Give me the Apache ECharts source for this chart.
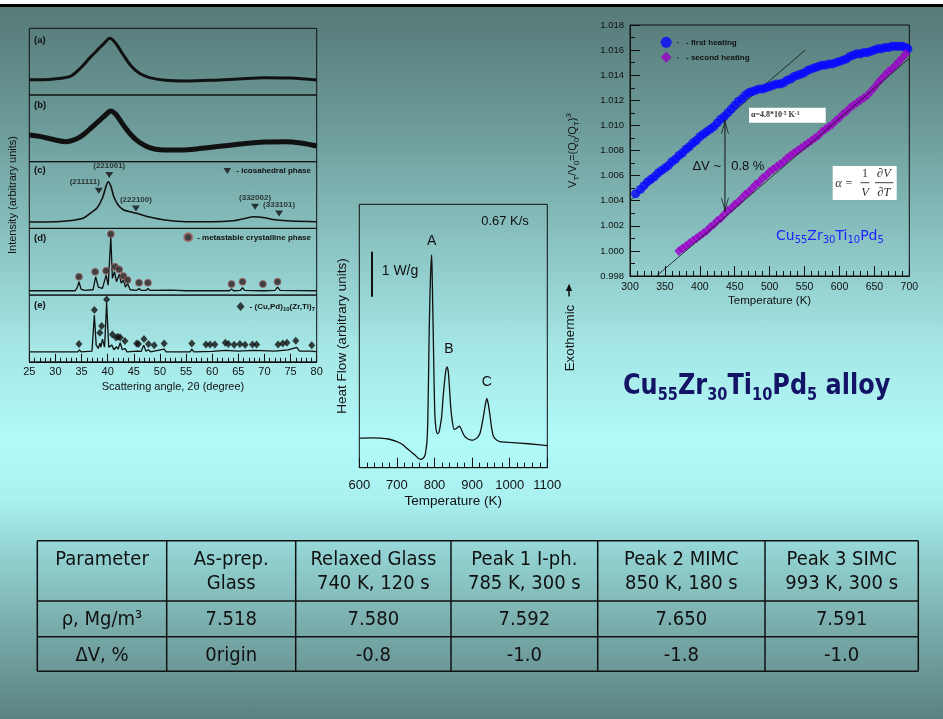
<!DOCTYPE html>
<html>
<head>
<meta charset="utf-8">
<title>Cu55Zr30Ti10Pd5 alloy</title>
<script src="https://cdn.jsdelivr.net/npm/echarts@6/dist/echarts.min.js"></script>
<style>
  html, body { margin: 0; padding: 0; }
  body {
    width: 943px; height: 719px; overflow: hidden;
    background: linear-gradient(to bottom,
      #ffffff 0px, #ffffff 4px, #000000 4px, #000000 7px,
      #567a78 7px, #6b9997 120px, #8cc6c5 250px, #a6e7e7 350px,
      #b2f9f9 440px, #aaf0f0 500px, #94d4d4 550px, #78abaa 630px, #5a8281 719px);
  }
  #chart { width: 943px; height: 719px; }
</style>
</head>
<body>
<div id="chart"></div>
<script>
// ---------- X-ray diffraction patterns: [2θ (deg), intensity (arb. units)] ----------
const xrdAsPrepared = [[25,23],[28,23],[31,25],[33,28.5],[35,42],[36.5,55],[38,67],[39.5,79],[40.4,85],[41.5,78],[43,60],[44.5,43.5],[46,33],[48,26],[51,22],[55,21],[60,22],[65,24],[70,26],[75,25.5],[80,22.5]];
const xrdRelaxed = [[25,40],[27,38],[30,32.5],[32,30],[34,34],[35.5,41.5],[37,52],[38.5,62.5],[40,73],[40.5,76],[41.5,71.5],[43,55],[44.5,40],[46,29.5],[48,21],[50,18],[54,17.5],[58,20],[62,23.5],[66,27],[70,29.5],[74,30],[77,28],[80,23.5]];
const xrdIcosahedral = [[25,9.5],[30,10],[32,11],[34,13],[35.5,16],[37,24.5],[38,31],[39,45.5],[39.7,63.5],[40.1,70],[40.6,63.5],[41.2,47],[42,35],[43,28],[44.5,24.5],[46,21.5],[48,17],[51,12.5],[55,10],[60,10],[64,11.5],[66,14.5],[68,17.5],[70,16],[72,13],[75,11],[80,10]];
const xrdMetastable = [[25,6.5],[33.8,6.5],[34.2,12],[34.5,20],[34.9,9],[35.5,7],[37.2,8],[37.7,27.5],[38.2,12],[39,10],[39.7,30],[40.1,15],[40.6,87],[40.9,25],[41.3,35],[41.7,20],[42.2,31.5],[42.6,18],[43,22.5],[43.4,12],[43.8,17.5],[44.3,8],[45.5,7],[46,10],[46.4,7],[47.3,7],[47.7,10],[48.1,7],[52,7.5],[55,6.5],[63.3,6.5],[63.7,9],[64.1,6.5],[65.4,7],[65.8,11],[66.2,7],[69.4,6.5],[69.7,9],[70,6.5],[72,7],[72.5,12],[73,7],[80,6.5]];
const xrdCuPdZrTi = [[25,15],[34.3,15],[34.6,18],[34.9,15],[37,16],[37.45,70],[37.8,25],[38.2,20],[38.5,28],[38.7,22],[39,34],[39.4,22],[39.8,88],[40.2,22],[40.8,25],[41.2,18],[41.7,22.5],[42,19],[42.4,28.5],[42.8,18],[43.3,20],[43.7,15],[45.7,16],[46,18],[46.4,15.5],[46.9,25],[47.3,16],[47.8,18],[48.2,15],[50.8,19],[51.2,15],[55.8,15],[56.1,19],[56.5,15],[60,15.5],[62.5,17],[65,16],[68,17],[72,16],[74.5,18],[76.2,21.5],[76.7,16],[79.2,16],[80,15]];

// Phase markers: [2θ, height, reflection]
const icosahedralPeaks = [[38.3,56.4,'(211111)'],[40.3,80,'(221001)'],[45.4,30,'(222100)'],[68.2,32.4,'(332002)'],[72.8,22.5,'(333101)']];
const metastablePeaks = [[34.5,27.5],[37.6,35],[39.7,36.5],[40.6,91.5],[41.4,42.5],[42.2,38.5],[43,28.5],[43.8,22.5],[46,18.5],[47.7,18.5],[63.7,16.5],[65.8,20],[69.7,16.5],[72.5,20]];
const cuPdZrTiPeaks = [[34.5,26.5],[37.45,77.5],[38.5,43.5],[38.85,53.5],[39.8,93.5],[40.9,41],[41.6,36.5],[42,37.5],[42.4,36.5],[43.3,31],[45.55,27.5],[45.9,26.5],[46.95,34],[47.8,26.5],[48.9,25],[50.8,27.5],[56.1,27.5],[58.8,26],[59.6,26],[60.5,26],[62.5,28.5],[63.1,26.5],[64.2,25.5],[65.3,26.5],[66.3,25.5],[67.7,26],[68.5,26],[72.6,26],[73.5,27.5],[74.3,28.5],[76,31.5],[79.05,25]];
const xrdPanelLabels = ['(a)','(b)','(c)','(d)','(e)'];

// ---------- DSC trace at 0.67 K/s: [T (K), heat flow (arb. units)] ----------
const dscHeatFlow = [[600,11.2],[630,11.3],[655,11.2],[680,10.8],[700,9.9],[715,8.8],[726,7.4],[738,6],[748,4.8],[756,3.7],[763,3.2],[770,3.6],[775,4.8],[778,7.5],[780,10],[782,17],[784,33],[786,53],[788,66],[790,75],[792.5,80.8],[794,72],[795.5,60],[797,48],[799,32],[801,20],[804,14.8],[808,12.9],[812,13.5],[816,16.5],[819,19.4],[823,27],[828,34.5],[831,37.5],[834,38.3],[837,36],[840,30],[843,23.2],[847,18],[852,14.6],[857,14.8],[862,15.4],[866,15.8],[870,15],[875,13.3],[880,12],[886,11.2],[895,10.6],[903,10.5],[910,11],[915,11.6],[921,13.1],[925,15.5],[930,19.4],[935,23.8],[939,26.3],[943,24.2],[948,19.4],[952,15],[957,11.8],[965,10.5],[974,9.9],[1000,9.6],[1050,9.1],[1100,8.4]];
const dscScaleBar = [[633,64.9],[633,82]];   // 1 W/g
const dscPeakNames = ['A','B','C'];

// ---------- Dilatometry: [T (K), V_T/V_0] ----------
const firstHeating = [[308,1.00455],[315,1.0049],[320,1.0052],[325,1.0055],[330,1.0057],[335,1.0059],[340,1.0062],[345,1.0064],[350,1.0066],[355,1.0068],[360,1.0071],[365,1.0073],[370,1.0076],[375,1.0078],[380,1.0081],[385,1.0083],[390,1.0086],[395,1.0088],[400,1.0091],[405,1.0093],[410,1.0095],[415,1.0097],[420,1.0099],[425,1.0102],[430,1.0105],[435,1.0107],[440,1.011],[445,1.0113],[450,1.0116],[455,1.0119],[460,1.0121],[465,1.0124],[470,1.0126],[475,1.0127],[480,1.0128],[485,1.0129],[490,1.0129],[495,1.013],[500,1.0131],[505,1.0132],[510,1.0133],[515,1.0133],[520,1.0134],[525,1.0136],[530,1.0137],[535,1.0139],[540,1.014],[545,1.0141],[550,1.0142],[555,1.0144],[560,1.0145],[565,1.0146],[570,1.0147],[575,1.0148],[580,1.0148],[585,1.0149],[590,1.0149],[595,1.015],[600,1.0151],[605,1.0152],[610,1.0153],[615,1.0155],[620,1.0156],[625,1.0157],[630,1.0157],[635,1.0158],[640,1.0158],[645,1.0159],[650,1.016],[655,1.0161],[660,1.0161],[665,1.0162],[670,1.0162],[675,1.0163],[680,1.0163],[685,1.0163],[690,1.0163],[695,1.0162],[698,1.0161]];
const secondHeating = [[370,1.0],[375,1.0002],[380,1.0004],[385,1.0006],[390,1.0008],[395,1.001],[400,1.0012],[405,1.0014],[410,1.0016],[415,1.0019],[420,1.0021],[425,1.0024],[430,1.0026],[435,1.0029],[440,1.0032],[445,1.0034],[450,1.0037],[455,1.0039],[460,1.0042],[465,1.0045],[470,1.0047],[475,1.005],[480,1.0053],[485,1.0055],[490,1.0058],[495,1.006],[500,1.0063],[505,1.0065],[510,1.0067],[515,1.0069],[520,1.0071],[525,1.0074],[530,1.0076],[535,1.0078],[540,1.008],[545,1.0082],[550,1.0084],[555,1.0086],[560,1.0088],[565,1.009],[570,1.0092],[575,1.0095],[580,1.0097],[585,1.0099],[590,1.0101],[595,1.0104],[600,1.0106],[605,1.0109],[610,1.0111],[615,1.0114],[620,1.0116],[625,1.0118],[630,1.012],[635,1.0122],[640,1.0124],[645,1.0127],[650,1.013],[655,1.0134],[660,1.0137],[665,1.014],[670,1.0143],[675,1.0145],[680,1.0148],[685,1.0151],[690,1.0154],[695,1.0157]];
const glassTangent = [[300,1.004],[551,1.016]];       // α = 4.8e-5 K^-1
const crystalTangent = [[338,0.998],[700,1.01535]];
const volumeDrop = [[436,1.01043],[436,1.00312]];     // ΔV ~ 0.8 %

// ---------- Density table ----------
const tableHeader = [['Parameter'], ['As-prep.', 'Glass'], ['Relaxed Glass', '740 K, 120 s'], ['Peak 1 I-ph.', '785 K, 300 s'], ['Peak 2 MIMC', '850 K, 180 s'], ['Peak 3 SIMC', '993 K, 300 s']];
const densityRow = ['ρ, Mg/m³', '7.518', '7.580', '7.592', '7.650', '7.591'];
const volumeRow = ['ΔV, %', '0rigin', '-0.8', '-1.0', '-1.8', '-1.0'];

// ---------- layout ----------
const SANS = '"Liberation Sans", Arial, sans-serif';
const INK = '#111';
const xrdBox = { left: 29.3, top: 28.3, width: 287.4, panel: 66.7 };
const dscBox = { left: 359.3, top: 204.3, width: 188, height: 263.4 };
const dilBox = { left: 630, top: 25, width: 279.3, height: 251 };
const tableCols = [37.3, 166.7, 295.7, 451, 597.7, 765, 918.3];
const tableRows = [540.7, 601, 636.7, 671.3];
const downTriangle = 'path://M0,0L10,0L5,8Z';

const frame = { show: true, borderColor: INK, borderWidth: 1, backgroundColor: 'transparent', outerBoundsMode: 'none' };
const noSplit = { splitLine: { show: false }, minorSplitLine: { show: false } };
const plainNumber = v => String(v);

const grids = [];
for (let i = 0; i < 5; i++) {
  grids.push(Object.assign({ left: xrdBox.left, top: xrdBox.top + i * xrdBox.panel, width: xrdBox.width, height: xrdBox.panel }, frame));
}
grids.push(Object.assign({ left: dscBox.left, top: dscBox.top, width: dscBox.width, height: dscBox.height }, frame));
grids.push(Object.assign({ left: dilBox.left, top: dilBox.top, width: dilBox.width, height: dilBox.height }, frame));

const xAxes = [];
for (let i = 0; i < 5; i++) {
  xAxes.push(Object.assign({
    gridIndex: i, type: 'value', min: 25, max: 80, interval: 5, show: i === 4,
    axisLine: { show: true, lineStyle: { color: INK } },
    axisTick: { show: true, inside: true, length: 8, lineStyle: { color: INK } },
    minorTick: { show: true, splitNumber: 5, length: 4, lineStyle: { color: INK } },
    axisLabel: { fontSize: 11, fontFamily: SANS, color: INK, margin: 5, formatter: plainNumber },
    name: i === 4 ? 'Scattering angle, 2θ (degree)' : '',
    nameLocation: 'middle', nameGap: 20, nameMoveOverlap: false,
    nameTextStyle: { fontSize: 11, fontFamily: SANS, color: INK }
  }, noSplit));
}
xAxes.push(Object.assign({
  gridIndex: 5, type: 'value', min: 600, max: 1100, interval: 100,
  axisLine: { show: true, lineStyle: { color: INK } },
  axisTick: { show: true, inside: true, length: 10, lineStyle: { color: INK } },
  minorTick: { show: true, splitNumber: 5, length: 5, lineStyle: { color: INK } },
  axisLabel: { fontSize: 13, fontFamily: SANS, color: INK, margin: 11, formatter: plainNumber },
  name: 'Temperature (K)', nameLocation: 'middle', nameGap: 27, nameMoveOverlap: false,
  nameTextStyle: { fontSize: 13.5, fontFamily: SANS, color: INK }
}, noSplit));
xAxes.push(Object.assign({
  gridIndex: 6, type: 'value', min: 300, max: 700, interval: 50,
  axisLine: { show: true, lineStyle: { color: INK } },
  axisTick: { show: true, inside: true, length: 10, lineStyle: { color: INK } },
  minorTick: { show: true, splitNumber: 5, length: 5, lineStyle: { color: INK } },
  axisLabel: { fontSize: 10.5, fontFamily: SANS, color: INK, margin: 6, formatter: plainNumber },
  name: 'Temperature (K)', nameLocation: 'middle', nameGap: 19, nameMoveOverlap: false,
  nameTextStyle: { fontSize: 11.5, fontFamily: SANS, color: INK }
}, noSplit));

const yAxes = [];
for (let i = 0; i < 5; i++) {
  yAxes.push(Object.assign({
    gridIndex: i, type: 'value', min: 0, max: 100, show: i === 2,
    axisLine: { show: false }, axisTick: { show: false }, axisLabel: { show: false },
    name: i === 2 ? 'Intensity (arbitrary units)' : '',
    nameLocation: 'middle', nameGap: 11, nameMoveOverlap: false,
    nameTextStyle: { fontSize: 11, fontFamily: SANS, color: INK }
  }, noSplit));
}
yAxes.push(Object.assign({
  gridIndex: 5, type: 'value', min: 0, max: 100,
  axisLine: { show: false }, axisTick: { show: false }, axisLabel: { show: false },
  name: 'Heat Flow (arbitrary units)', nameLocation: 'middle', nameGap: 10, nameMoveOverlap: false,
  nameTextStyle: { fontSize: 13.5, fontFamily: SANS, color: INK }
}, noSplit));
yAxes.push(Object.assign({
  gridIndex: 6, type: 'value', min: 0.998, max: 1.018, interval: 0.002,
  axisLine: { show: true, lineStyle: { color: INK } },
  axisTick: { show: true, inside: true, length: 10, lineStyle: { color: INK } },
  minorTick: { show: true, splitNumber: 2, length: 5, lineStyle: { color: INK } },
  axisLabel: { fontSize: 9.5, fontFamily: SANS, color: INK, margin: 6, formatter: v => v.toFixed(3) },
  name: 'V{s|T}/V{s|0}=(Q{s|0}/Q{s|T}){p|3}', nameLocation: 'middle', nameGap: 49, nameMoveOverlap: false,
  nameTextStyle: {
    fontSize: 11, fontFamily: SANS, color: INK, lineHeight: 16,
    rich: {
      s: { fontSize: 8, fontFamily: SANS, color: INK, lineHeight: 8, verticalAlign: 'bottom' },
      p: { fontSize: 8, fontFamily: SANS, color: INK, lineHeight: 8, verticalAlign: 'top' }
    }
  }
}, noSplit));

const curve = (name, idx, data, width, smooth) => ({
  type: 'line', name, xAxisIndex: idx, yAxisIndex: idx, data, symbol: 'none', showSymbol: false,
  smooth, lineStyle: { color: INK, width }, silent: true, z: 3
});

const markerLabel = { show: true, position: 'top', distance: 2, fontSize: 8, fontWeight: 'bold', fontFamily: SANS, color: INK };

const series = [
  curve('as-prepared glass', 0, xrdAsPrepared, 3, 0.35),
  curve('relaxed glass', 1, xrdRelaxed, 5, 0.35),
  curve('icosahedral', 2, xrdIcosahedral, 1.6, 0.3),
  curve('metastable', 3, xrdMetastable, 1.3, false),
  curve('equilibrium', 4, xrdCuPdZrTi, 1.3, false),
  {
    type: 'scatter', name: 'icosahedral phase', xAxisIndex: 2, yAxisIndex: 2,
    symbol: downTriangle, symbolSize: [8, 6], itemStyle: { color: INK }, z: 4,
    data: icosahedralPeaks.map(p => ({
      value: [p[0], p[1]],
      label: Object.assign({}, markerLabel, { formatter: p[2], offset: p[2] === '(211111)' ? [-14, 0] : [0, 0] })
    }))
  },
  {
    type: 'scatter', name: 'metastable crystalline phase', xAxisIndex: 3, yAxisIndex: 3,
    symbol: 'circle', symbolSize: 7, itemStyle: { color: '#2a1e1e', borderColor: '#a86a6a', borderWidth: 1 }, z: 4,
    data: metastablePeaks
  },
  {
    type: 'scatter', name: '(Cu,Pd)10(Zr,Ti)7', xAxisIndex: 4, yAxisIndex: 4,
    symbol: 'diamond', symbolSize: [7, 8], itemStyle: { color: INK }, z: 4,
    data: cuPdZrTiPeaks
  },
  {
    type: 'line', name: 'DSC', xAxisIndex: 5, yAxisIndex: 5, data: dscHeatFlow,
    symbol: 'none', smooth: 0.2, lineStyle: { color: INK, width: 1.3 }, silent: true,
    markLine: {
      silent: true, symbol: ['none', 'none'], label: { show: false },
      lineStyle: { color: INK, width: 2, type: 'solid' },
      data: [[{ coord: dscScaleBar[0] }, { coord: dscScaleBar[1] }]]
    }
  },
  {
    type: 'line', name: 'glass tangent', xAxisIndex: 6, yAxisIndex: 6, data: glassTangent,
    symbol: 'none', lineStyle: { color: INK, width: 0.8 }, silent: true, z: 1
  },
  {
    type: 'line', name: 'crystal tangent', xAxisIndex: 6, yAxisIndex: 6, data: crystalTangent,
    symbol: 'none', lineStyle: { color: INK, width: 0.8 }, silent: true, z: 5
  },
  {
    type: 'scatter', name: 'first heating', xAxisIndex: 6, yAxisIndex: 6, data: firstHeating,
    symbol: 'circle', symbolSize: 9, itemStyle: { color: '#0808ff' }, z: 3
  },
  {
    type: 'scatter', name: 'second heating', xAxisIndex: 6, yAxisIndex: 6, data: secondHeating,
    symbol: 'diamond', symbolSize: [9, 10], itemStyle: { color: '#9c00c8' }, z: 3
  },
  {
    type: 'line', name: 'volume drop', xAxisIndex: 6, yAxisIndex: 6, data: volumeDrop,
    symbol: 'none', lineStyle: { color: INK, width: 1 }, silent: true, z: 6
  },
  {
    type: 'scatter', name: 'volume drop heads', xAxisIndex: 6, yAxisIndex: 6, silent: true, z: 6,
    symbol: 'path://M5,0L10,14L8.9,14L5,3.2L1.1,14L0,14Z', symbolSize: [8, 14],
    itemStyle: { color: INK },
    data: [
      { value: volumeDrop[0], symbolRotate: 0, symbolOffset: [0, 7] },
      { value: volumeDrop[1], symbolRotate: 180, symbolOffset: [0, -7] }
    ]
  }
];

const legendText = { fontSize: 8, fontWeight: 'bold', fontFamily: SANS, color: INK };
const legends = [
  { data: [{ name: 'icosahedral phase', icon: downTriangle }], right: 632, top: 167, padding: 0, itemWidth: 8, itemHeight: 6, formatter: '- {name}', textStyle: legendText, selectedMode: false },
  { data: ['metastable crystalline phase'], right: 632, top: 232.3, padding: 0, itemWidth: 8, itemHeight: 8, formatter: '- {name}', textStyle: legendText, selectedMode: false },
  {
    data: ['(Cu,Pd)10(Zr,Ti)7'], right: 628, top: 301, padding: 0, itemWidth: 8, itemHeight: 9, selectedMode: false,
    formatter: () => '- (Cu,Pd){s|10}(Zr,Ti){s|7}',
    textStyle: Object.assign({}, legendText, {
      lineHeight: 11,
      rich: { s: { fontSize: 6, fontWeight: 'bold', fontFamily: SANS, color: INK, lineHeight: 6, verticalAlign: 'bottom' } }
    })
  },
  {
    data: ['first heating', 'second heating'], left: 660.7, top: 36.8, orient: 'vertical', padding: 0,
    itemWidth: 11, itemHeight: 11, itemGap: 4, formatter: '·   - {name}', textStyle: legendText, selectedMode: false
  }
];

// ---------- annotations ----------
const txt = (x, y, text, font, extra) => Object.assign({
  type: 'text', x, y, silent: true,
  style: { text, font, fill: INK, align: 'center', verticalAlign: 'middle' }
}, extra || {});
const seg = (x1, y1, x2, y2, w) => ({ type: 'line', silent: true, shape: { x1, y1, x2, y2 }, style: { stroke: INK, lineWidth: w } });

const graphics = [];
const panelLabelY = [40, 105, 170.7, 238.3, 305.7];
xrdPanelLabels.forEach((t, i) => graphics.push({
  type: 'text', x: 34, y: panelLabelY[i], silent: true,
  style: { text: t, font: 'bold 9.5px ' + SANS, fill: INK, align: 'left', verticalAlign: 'middle' }
}));

// DSC annotations
graphics.push(txt(505, 221.7, '0.67 K/s', '13px ' + SANS));
const dscPeakPos = [[431.7, 240.7], [449, 349.3], [486.7, 381.7]];
dscPeakNames.forEach((n, i) => graphics.push(txt(dscPeakPos[i][0], dscPeakPos[i][1], n, '14px ' + SANS)));
graphics.push({ type: 'text', x: 381.7, y: 270.7, silent: true, style: { text: '1 W/g', font: '14px ' + SANS, fill: INK, align: 'left', verticalAlign: 'middle' } });
graphics.push(txt(570, 338, 'Exothermic', '13.3px ' + SANS, { rotation: Math.PI / 2 }));
graphics.push({ type: 'polygon', silent: true, shape: { points: [[569, 283.8], [565.8, 291], [572.2, 291]] }, style: { fill: INK } });
graphics.push(seg(569, 290, 569, 296.5, 1.5));

// Dilatometry annotations
graphics.push({ type: 'rect', silent: true, shape: { x: 749, y: 107.7, width: 76.7, height: 15 }, style: { fill: '#ffffff' } });
graphics.push({
  type: 'text', x: 751, y: 115.4, silent: true,
  style: {
    text: 'α=4.8*10{p|-5} K{p|-1}', font: 'bold 8px "Liberation Serif", serif', fill: '#333', align: 'left', verticalAlign: 'middle', lineHeight: 10,
    rich: { p: { font: 'bold 5.5px "Liberation Serif", serif', fill: '#333', lineHeight: 6, verticalAlign: 'top' } }
  }
});
graphics.push({ type: 'rect', silent: true, shape: { x: 832.7, y: 166, width: 64, height: 34 }, style: { fill: '#ffffff' } });
const serifI = 'italic 12.5px "Liberation Serif", serif';
const serifR = '12px "Liberation Serif", serif';
const formulaText = (x, y, t, font) => ({ type: 'text', x, y, silent: true, style: { text: t, font, fill: '#333', align: 'center', verticalAlign: 'middle' } });
graphics.push(formulaText(838.5, 183.5, 'α', serifI));
graphics.push(formulaText(849, 183.5, '=', serifR));
graphics.push(formulaText(865, 173.5, '1', serifR));
graphics.push(formulaText(865, 192.5, 'V', serifI));
graphics.push(formulaText(884, 173.5, '∂V', serifI));
graphics.push(formulaText(884, 192.5, '∂T', serifI));
graphics.push(seg(860.5, 182.7, 869.5, 182.7, 0.8));
graphics.push(seg(875, 182.7, 893.5, 182.7, 0.8));
graphics.push(txt(706.7, 166.7, 'ΔV ~', '13px ' + SANS));
graphics.push(txt(747.8, 166.7, '0.8 %', '13px ' + SANS));
graphics.push({
  type: 'text', x: 776, y: 236.7, silent: true,
  style: {
    text: 'Cu{s|55}Zr{s|30}Ti{s|10}Pd{s|5}', font: '14px "DejaVu Sans", sans-serif', fill: '#1f1fff',
    align: 'left', verticalAlign: 'middle', lineHeight: 18,
    rich: { s: { font: '10px "DejaVu Sans", sans-serif', fill: '#1f1fff', lineHeight: 10, verticalAlign: 'bottom' } }
  }
});

// Headline
graphics.push({
  type: 'text', x: 623, y: 387, scaleX: 0.857, silent: true,
  style: {
    text: 'Cu{s|55}Zr{s|30}Ti{s|10}Pd{s|5} alloy', font: 'bold 28px "DejaVu Sans", sans-serif', fill: '#141466',
    align: 'left', verticalAlign: 'middle', lineHeight: 34,
    rich: { s: { font: 'bold 17px "DejaVu Sans", sans-serif', fill: '#141466', lineHeight: 17, verticalAlign: 'bottom' } }
  }
});

// Density table
const tableFont = '20px "DejaVu Sans", sans-serif';
const cellText = (cx, cy, t) => ({
  type: 'text', x: cx, y: cy, scaleX: 0.9, silent: true,
  style: { text: t, font: tableFont, fill: INK, align: 'center', verticalAlign: 'middle' }
});
tableRows.forEach(y => graphics.push(seg(tableCols[0], y, tableCols[tableCols.length - 1], y, 1.5)));
tableCols.forEach(x => graphics.push(seg(x, tableRows[0], x, tableRows[tableRows.length - 1], 1.5)));
for (let c = 0; c < 6; c++) {
  const cx = (tableCols[c] + tableCols[c + 1]) / 2;
  tableHeader[c].forEach((line, k) => graphics.push(cellText(cx, 560 + k * 23.3, line)));
  graphics.push(cellText(cx, 619.3, densityRow[c]));
  graphics.push(cellText(cx, 656, volumeRow[c]));
}

const chart = echarts.init(document.getElementById('chart'), null, { renderer: 'canvas' });
chart.setOption({
  animation: false,
  backgroundColor: 'transparent',
  textStyle: { fontFamily: SANS },
  grid: grids,
  xAxis: xAxes,
  yAxis: yAxes,
  legend: legends,
  series,
  graphic: graphics
});
</script>
</body>
</html>
